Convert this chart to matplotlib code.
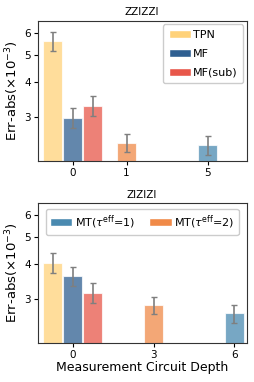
import matplotlib
matplotlib.use("Agg")
import matplotlib.pyplot as plt
from matplotlib.patches import Patch

# ---------------------------------------------------
# Data (Err-abs in units of 1e-3)
# ---------------------------------------------------

methods = ["TPN", "MF", "MF(sub)"]
colors = {
    "TPN": "#FFD27A",
    "MF": "#2F5F91",
    "MF(sub)": "#E8574A",
    "MT1": "#4A8AB0",
    "MT2": "#F08A48",
}

# ZZIZZI
top_depth_labels = ["0", "1", "5"]
top_base_vals = [5.6, 2.97, 3.28]
top_base_err = [0.42, 0.24, 0.27]
top_mt2_val = 2.42
top_mt2_err = 0.18
top_mt1_val = 2.37
top_mt1_err = 0.19

# ZIZIZI
bot_depth_labels = ["0", "3", "6"]
bot_base_vals = [4.04, 3.61, 3.15]
bot_base_err = [0.33, 0.28, 0.26]
bot_mt2_val = 2.84
bot_mt2_err = 0.21
bot_mt1_val = 2.65
bot_mt1_err = 0.20

y_ticks = [3, 4, 5, 6]
y_ticklabels = ["3", "4", "5", "6"]

# ---------------------------------------------------
# Figure
# ---------------------------------------------------

fig = plt.figure(figsize=(2.54, 3.82), dpi=100)
ax_top = fig.add_axes([0.148, 0.579, 0.823, 0.366])
ax_bot = fig.add_axes([0.148, 0.103, 0.823, 0.365])

width = 0.69
step = 0.74
bar_alpha = 0.75
err_kw = dict(ecolor="#7f7f7f", capsize=2, elinewidth=1.2, capthick=1.0)


def draw_panel(ax, tick_pos, labels, base_vals, base_err,
               mt2_x, mt2_val, mt2_err, mt1_x, mt1_val, mt1_err, title):
    for i, m in enumerate(methods):
        ax.bar(tick_pos[0] + (i - 1) * step, base_vals[i], width,
               yerr=base_err[i], color=colors[m], alpha=bar_alpha,
               edgecolor="white", linewidth=0.8, error_kw=err_kw)
    ax.bar(mt2_x, mt2_val, width, yerr=mt2_err, color=colors["MT2"],
           alpha=bar_alpha, edgecolor="white", linewidth=0.8, error_kw=err_kw)
    ax.bar(mt1_x, mt1_val, width, yerr=mt1_err, color=colors["MT1"],
           alpha=bar_alpha, edgecolor="white", linewidth=0.8, error_kw=err_kw)

    ax.set_yscale("log")
    ax.set_ylim(2.08, 6.62)
    ax.minorticks_off()
    ax.set_yticks(y_ticks, y_ticklabels)
    ax.set_xlim(-1.3, 6.45)
    ax.set_xticks(tick_pos, labels)
    ax.tick_params(labelsize=7.5, length=3, pad=2)
    ax.set_ylabel(r"Err-abs($\times10^{-3}$)", fontsize=9.5, labelpad=2)
    ax.set_title(title, fontsize=7.5, pad=4)
    for s in ax.spines.values():
        s.set_color("#333333")


draw_panel(ax_top, [0, 2, 5], top_depth_labels, top_base_vals, top_base_err,
           2, top_mt2_val, top_mt2_err, 5, top_mt1_val, top_mt1_err, "ZZIZZI")
draw_panel(ax_bot, [0, 3, 6], bot_depth_labels, bot_base_vals, bot_base_err,
           3, bot_mt2_val, bot_mt2_err, 6, bot_mt1_val, bot_mt1_err, "ZIZIZI")

ax_bot.set_xlabel("Measurement Circuit Depth", fontsize=9, labelpad=1)

top_handles = [Patch(facecolor=colors[m], edgecolor="white", label=m)
               for m in methods]
ax_top.legend(handles=top_handles, loc="upper right", fontsize=8,
              handlelength=2.0, handletextpad=0.2, labelspacing=0.8,
              borderpad=0.5, framealpha=1, borderaxespad=0.3)

bot_handles = [
    Patch(facecolor=colors["MT1"], edgecolor="white",
          label=r"MT($\tau^{\rm eff}$=1)"),
    Patch(facecolor=colors["MT2"], edgecolor="white",
          label=r"MT($\tau^{\rm eff}$=2)"),
]
ax_bot.legend(handles=bot_handles, loc="upper center", ncol=2, fontsize=8,
              handlelength=2.0, handletextpad=0.2, columnspacing=1.3,
              borderpad=0.4, framealpha=1)

plt.savefig("out.png", dpi=100)
